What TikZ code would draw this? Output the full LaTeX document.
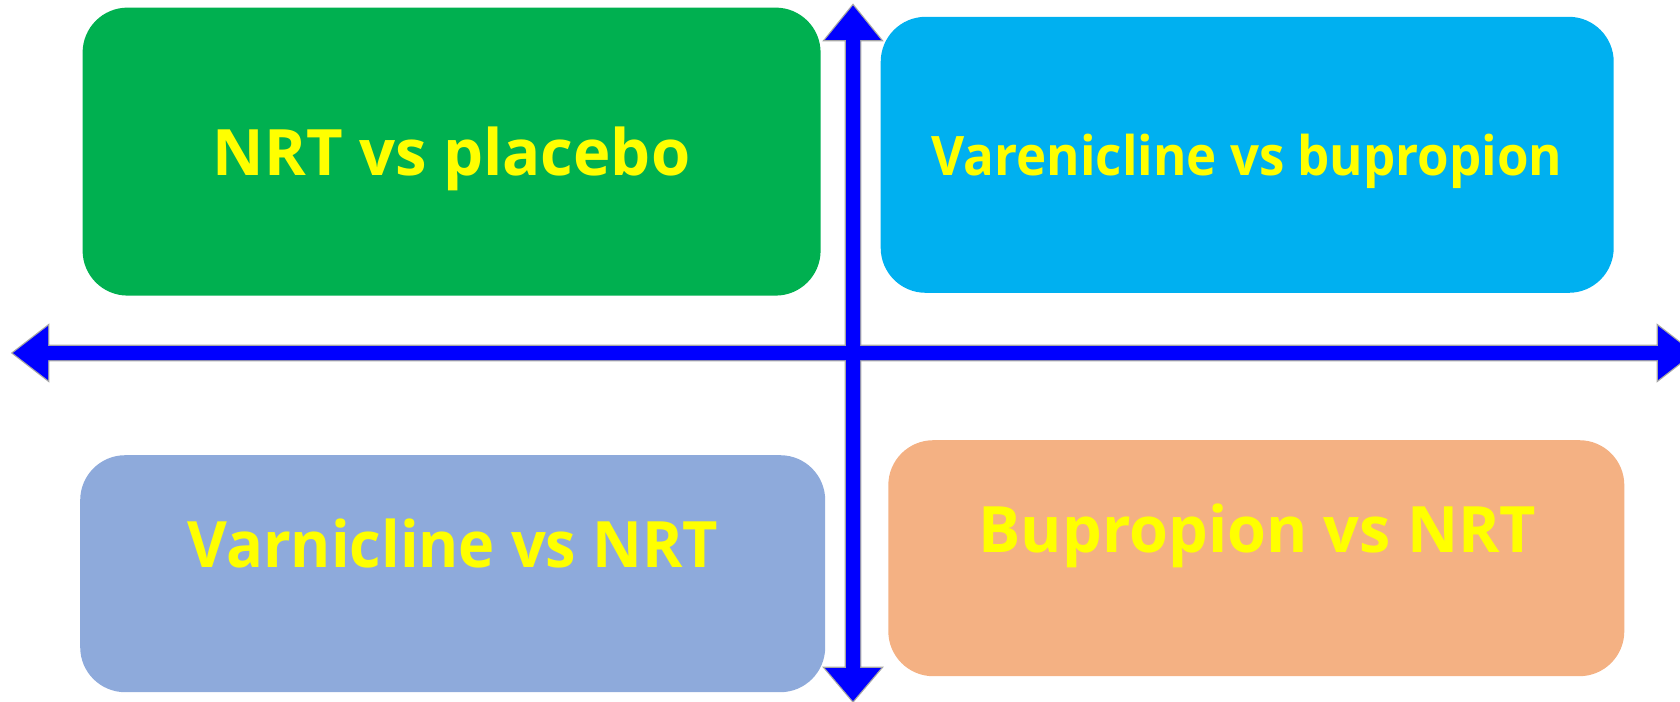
\documentclass[tikz,border=0pt]{standalone}
\usepackage{fontspec}
\setmainfont{Open Sans}
\definecolor{cgreen}{HTML}{00B050}
\definecolor{cblue}{HTML}{00B0F0}
\definecolor{clav}{HTML}{8EAADB}
\definecolor{corange}{HTML}{F4B183}
\definecolor{cyellow}{HTML}{FFFF00}
\definecolor{carrow}{HTML}{0000FF}
\definecolor{cedge}{HTML}{A6A6A6}
\begin{document}
\begin{tikzpicture}[x=1pt,y=-1pt,
  quad/.style={rounded corners=45pt, inner sep=0pt, draw=none},
  lbl/.style={anchor=base, text=cyellow, font=\bfseries\fontsize{64}{70}\selectfont, inner sep=0pt},
  lblsmall/.style={lbl, font=\bfseries\fontsize{54.5}{60}\selectfont},
  axisedge/.style={draw=cedge, line width=2.6pt, line join=miter},
  axisfill/.style={fill=carrow}]
\useasboundingbox (0,0) rectangle (1680,701);
\clip (0,0) rectangle (1680,701);
% quadrant boxes
\node[quad, fill=cgreen, minimum width=738pt, minimum height=288pt] (qg) at (451.6,151.6) {};
\node[quad, fill=cblue, minimum width=733pt, minimum height=276pt] (qb) at (1247.2,154.8) {};
\node[quad, fill=clav, minimum width=745pt, minimum height=237pt] (ql) at (452.7,573.7) {};
\node[quad, fill=corange, minimum width=736pt, minimum height=236pt] (qo) at (1256.3,558.2) {};
% labels
\node[lbl] (tg) at (451.6,175) {\scalebox{0.99}[1]{NRT vs placebo}};
\node[lblsmall] (tb) at (1247,175) {\scalebox{0.936}[1]{Varenicline vs bupropion}};
\node[lbl] (tl) at (452.8,567.7) {\scalebox{0.957}[1]{Varnicline vs NRT}};
\node[lbl] (to) at (1257.5,552) {\scalebox{0.983}[1]{Bupropion vs NRT}};
% axes
\def\vaxis{(853,5.5) -- (881,40) -- (860,40) -- (860,668) -- (881,668) -- (853,701) -- (825,668) -- (846,668) -- (846,40) -- (825,40) -- cycle}
\def\haxis{(13,353) -- (48,326) -- (48,346) -- (1658,346) -- (1658,326) -- (1693,353) -- (1658,380) -- (1658,360) -- (48,360) -- (48,380) -- cycle}
\path[axisedge] \vaxis;
\path[axisedge] \haxis;
\path[axisfill] \vaxis;
\path[axisfill] \haxis;
\end{tikzpicture}
\end{document}
